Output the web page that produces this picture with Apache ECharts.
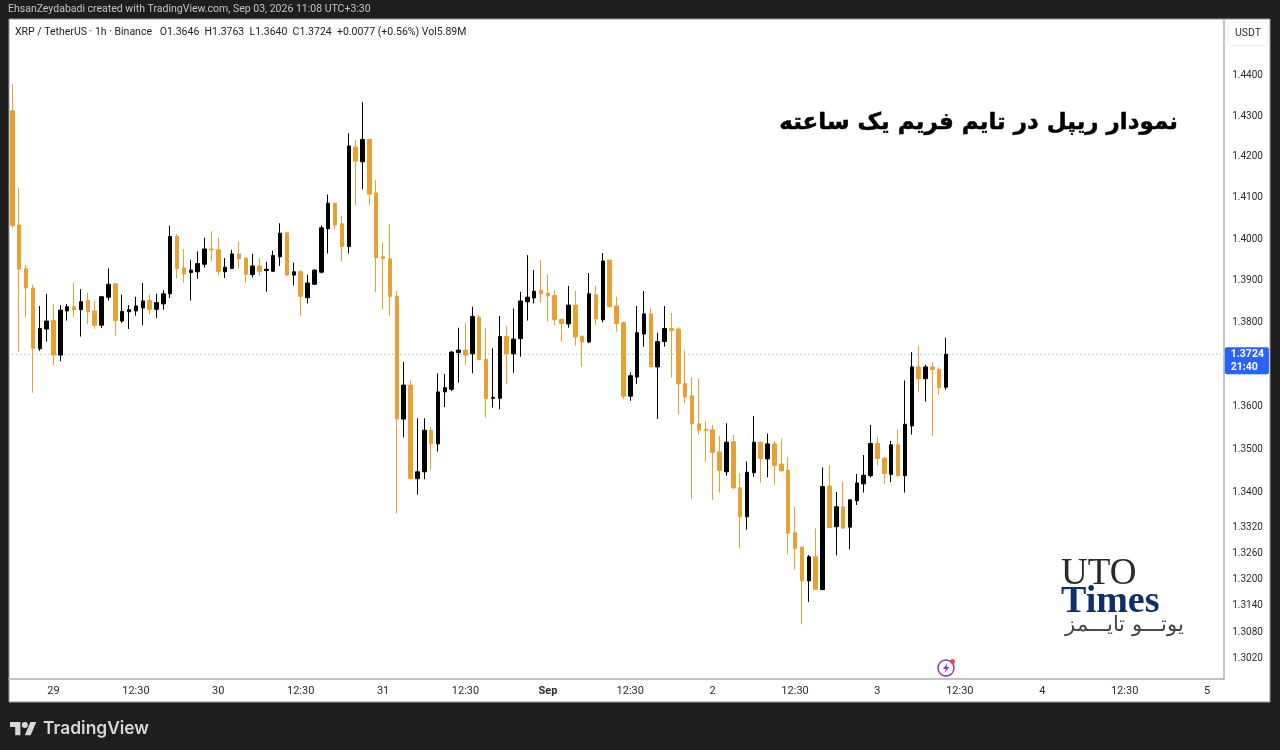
<!DOCTYPE html>
<html>
<head>
<meta charset="utf-8">
<title>XRP 1h</title>
<style>html,body{margin:0;padding:0;background:#1e1e1e}#main{width:1280px;height:750px}</style>
<script src="https://cdn.jsdelivr.net/npm/echarts@6/dist/echarts.min.js"></script>
</head>
<body>
<div id="main"></div>
<script>
var opens = [1.4314,1.4034,1.3928,1.3882,1.3737,1.3784,1.3804,1.3722,1.3827,1.3837,1.3830,1.3852,1.3827,1.3793,1.3860,1.3892,1.3803,1.3825,1.3827,1.3834,
  1.3852,1.3831,1.3844,1.3868,1.4006,1.3930,1.3919,1.3921,1.3939,1.3976,1.3974,1.3921,1.3929,1.3964,1.3954,1.3914,1.3935,1.3924,1.3922,1.3957,
  1.4015,1.3913,1.3921,1.3859,1.3891,1.3920,1.4025,1.4087,1.4037,1.3982,1.4224,1.4188,1.4243,1.4112,1.3957,1.3952,1.3862,1.3571,1.3651,1.3432,
  1.3448,1.3545,1.3513,1.3635,1.3641,1.3728,1.3734,1.3725,1.3812,1.3712,1.3620,1.3620,1.3766,1.3725,1.3761,1.3849,1.3858,1.3876,1.3870,1.3864,
  1.3807,1.3796,1.3841,1.3767,1.3753,1.3866,1.3806,1.3949,1.3839,1.3799,1.3625,1.3670,1.3772,1.3820,1.3694,1.3754,1.3785,1.3784,1.3655,1.3626,
  1.3560,1.3547,1.3546,1.3494,1.3448,1.3518,1.3411,1.3344,1.3446,1.3517,1.3478,1.3513,1.3466,1.3452,1.3307,1.3274,1.3197,1.3252,1.3177,1.3415,
  1.3321,1.3367,1.3320,1.3381,1.3420,1.3439,1.3514,1.3480,1.3442,1.3511,1.3439,1.3555,1.3694,1.3666,1.3694,1.3688,1.3646];
var closes = [1.4032,1.3927,1.3882,1.3738,1.3785,1.3803,1.3722,1.3829,1.3837,1.3830,1.3849,1.3825,1.3793,1.3861,1.3891,1.3804,1.3826,1.3830,1.3839,1.3851,
  1.3831,1.3847,1.3868,1.4006,1.3929,1.3916,1.3925,1.3941,1.3976,1.3974,1.3921,1.3932,1.3964,1.3952,1.3915,1.3935,1.3922,1.3927,1.3960,1.4014,
  1.3913,1.3921,1.3862,1.3894,1.3925,1.4027,1.4087,1.4034,1.3982,1.4227,1.4190,1.4243,1.4109,1.3955,1.3953,1.3861,1.3571,1.3651,1.3432,1.3448,
  1.3545,1.3513,1.3635,1.3645,1.3729,1.3734,1.3722,1.3814,1.3711,1.3619,1.3622,1.3766,1.3725,1.3760,1.3851,1.3860,1.3874,1.3868,1.3863,1.3806,
  1.3797,1.3841,1.3765,1.3753,1.3868,1.3808,1.3947,1.3837,1.3797,1.3625,1.3673,1.3775,1.3820,1.3694,1.3754,1.3785,1.3780,1.3654,1.3623,1.3560,
  1.3545,1.3544,1.3493,1.3451,1.3517,1.3411,1.3344,1.3447,1.3517,1.3479,1.3513,1.3462,1.3450,1.3306,1.3271,1.3197,1.3252,1.3178,1.3414,1.3319,
  1.3367,1.3318,1.3383,1.3422,1.3440,1.3514,1.3479,1.3444,1.3511,1.3439,1.3559,1.3694,1.3666,1.3694,1.3688,1.3645,1.3724];
var lows = [1.4027,1.3730,1.3812,1.3633,1.3732,1.3754,1.3697,1.3707,1.3804,1.3813,1.3766,1.3796,1.3784,1.3786,1.3852,1.3768,1.3799,1.3784,1.3816,1.3793,
  1.3819,1.3810,1.3830,1.3858,1.3904,1.3895,1.3852,1.3904,1.3931,1.3946,1.3912,1.3906,1.3928,1.3928,1.3894,1.3907,1.3911,1.3873,1.3921,1.3935,
  1.3912,1.3888,1.3816,1.3845,1.3890,1.3917,1.3965,1.4024,1.3945,1.3965,1.4081,1.4121,1.4082,1.3872,1.3831,1.3816,1.3352,1.3528,1.3431,1.3395,
  1.3431,1.3452,1.3495,1.3599,1.3637,1.3657,1.3699,1.3679,1.3710,1.3574,1.3598,1.3594,1.3653,1.3680,1.3718,1.3804,1.3845,1.3847,1.3802,1.3793,
  1.3754,1.3787,1.3744,1.3694,1.3750,1.3792,1.3800,1.3837,1.3778,1.3618,1.3614,1.3654,1.3742,1.3693,1.3571,1.3742,1.3669,1.3582,1.3608,1.3386,
  1.3535,1.3471,1.3383,1.3400,1.3439,1.3408,1.3271,1.3314,1.3436,1.3423,1.3435,1.3418,1.3450,1.3258,1.3223,1.3098,1.3149,1.3176,1.3176,1.3318,
  1.3255,1.3316,1.3269,1.3371,1.3400,1.3435,1.3462,1.3420,1.3424,1.3437,1.3400,1.3535,1.3635,1.3612,1.3531,1.3628,1.3640];
var highs = [1.4380,1.4123,1.3937,1.3890,1.3839,1.3868,1.3843,1.3841,1.3844,1.3894,1.3879,1.3871,1.3851,1.3862,1.3929,1.3894,1.3866,1.3841,1.3861,1.3894,
  1.3867,1.3868,1.3877,1.4032,1.4012,1.3976,1.3950,1.3970,1.4003,1.4019,1.4003,1.3954,1.3974,1.3994,1.3954,1.3964,1.3954,1.3945,1.3972,1.4038,
  1.4016,1.3943,1.3925,1.3914,1.3927,1.4033,1.4108,1.4087,1.4056,1.4258,1.4242,1.4335,1.4243,1.4143,1.3992,1.4036,1.3875,1.3706,1.3662,1.3573,
  1.3573,1.3552,1.3679,1.3677,1.3732,1.3787,1.3798,1.3837,1.3818,1.3787,1.3738,1.3815,1.3791,1.3833,1.3873,1.3961,1.3925,1.3950,1.3915,1.3878,
  1.3808,1.3887,1.3875,1.3767,1.3918,1.3887,1.3966,1.3950,1.3861,1.3802,1.3681,1.3839,1.3875,1.3835,1.3775,1.3839,1.3822,1.3788,1.3733,1.3669,
  1.3667,1.3567,1.3557,1.3532,1.3561,1.3534,1.3445,1.3472,1.3578,1.3518,1.3537,1.3520,1.3525,1.3483,1.3367,1.3275,1.3256,1.3317,1.3458,1.3464,
  1.3401,1.3425,1.3383,1.3443,1.3487,1.3557,1.3530,1.3483,1.3520,1.3547,1.3662,1.3729,1.3744,1.3699,1.3705,1.3693,1.3763];

var priceTicks = [1.44,1.43,1.42,1.41,1.40,1.39,1.38,1.36,1.35,1.34,1.332,1.326,1.32,1.314,1.308,1.302];
var timeTickSlots = [6,18,30,42,54,66,78,90,102,114,126,138,150,162,174];
var timeTickLabels = ['29','12:30','30','12:30','31','12:30','Sep','12:30','2','12:30','3','12:30','4','12:30','5'];
var lastPrice = 1.3724;
var countdown = '21:40';
var slotCount = 177;

var up = '#000000';
var down = '#e8a033';
var axisFont = 'Roboto, sans-serif';

var categories = [];
var lastPriceLine = [];
for (var i = 0; i < slotCount; i++) {
  var at = timeTickSlots.indexOf(i);
  categories.push(at >= 0 ? timeTickLabels[at] : '');
  lastPriceLine.push(lastPrice);
}
var candles = opens.map(function (o, i) {
  return [o, closes[i], lows[i], highs[i]];
});

var chart = echarts.init(document.getElementById('main'), null, {renderer: 'canvas'});

chart.setOption({
  animation: false,
  backgroundColor: '#1e1e1e',
  grid: {left: 8.87, right: 55.8, top: 20, bottom: 71},
  xAxis: {
    type: 'category',
    data: categories,
    axisLine: {show: true, lineStyle: {color: '#b0b0b0', width: 1.5}},
    axisTick: {show: false},
    splitLine: {show: false},
    axisLabel: {
      interval: function (i, v) { return v !== ''; },
      hideOverlap: false,
      color: '#2a2a2a',
      fontFamily: axisFont,
      fontSize: 11,
      margin: 7,
      formatter: function (v) { return v === 'Sep' ? '{b|Sep}' : v; },
      rich: {b: {fontWeight: 'bold', fontFamily: axisFont, fontSize: 11, color: '#2a2a2a'}}
    }
  },
  yAxis: {
    type: 'log',
    logBase: 10,
    position: 'right',
    min: 1.2975,
    max: 1.454,
    axisLine: {show: true, lineStyle: {color: '#b0b0b0', width: 1.5}},
    axisTick: {show: false},
    splitLine: {show: false},
    minorTick: {show: false},
    axisLabel: {
      customValues: priceTicks,
      color: '#2a2a2a',
      fontFamily: axisFont,
      fontSize: 10,
      margin: 8,
      padding: [5, 0, 0, 0],
      formatter: function (v) { return Number(v).toFixed(4); }
    }
  },
  series: [{
    type: 'line',
    z: 1,
    data: lastPriceLine,
    showSymbol: false,
    silent: true,
    lineStyle: {color: '#6fae9f', type: [1, 3], width: 1},
    endLabel: {
      show: true,
      distance: 4,
      formatter: lastPrice.toFixed(4) + '\n' + countdown,
      backgroundColor: '#2962ff',
      color: '#fff',
      fontFamily: axisFont,
      fontSize: 10.5,
      fontWeight: 'bold',
      lineHeight: 13,
      padding: [1, 5, 0, 6],
      borderRadius: 2,
      align: 'left',
      verticalAlign: 'top',
      offset: [0, -7]
    }
  }, {
    type: 'candlestick',
    data: candles,
    barWidth: 4,
    itemStyle: {color: up, color0: down, borderColor: up, borderColor0: down, borderWidth: 1}
  }],
  graphic: [
    {type: 'rect', z: -1, shape: {x: 9, y: 19, width: 1261, height: 683}, style: {fill: '#fff', stroke: '#9a9a9a', lineWidth: 1}},
    {type: 'text', x: 8, y: 4, style: {text: 'EhsanZeydabadi created with TradingView.com, Sep 03, 2026 11:08 UTC+3:30', fill: '#c4c4c4', font: '10.5px Roboto, sans-serif'}},
    {type: 'text', x: 15, y: 27, style: {text: 'XRP / TetherUS \u00b7 1h \u00b7 Binance   O1.3646  H1.3763  L1.3640  C1.3724  +0.0077 (+0.56%) Vol5.89M', fill: '#222', font: '10.5px Roboto, sans-serif'}},
    {type: 'rect', shape: {x: 1228.5, y: 22.5, width: 39, height: 23, r: 3}, style: {fill: '#fff', stroke: '#efefef', lineWidth: 1}},
    {type: 'text', x: 1248, y: 28, style: {text: 'USDT', fill: '#333', align: 'center', font: '10.5px Roboto, sans-serif'}},
    {type: 'text', x: 1178, y: 112, style: {text: 'نمودار ریپل در تایم فریم یک ساعته', fill: '#000', stroke: '#000', lineWidth: 0.5, align: 'right', font: 'bold 23px "DejaVu Sans", sans-serif'}},
    {type: 'text', x: 1061, y: 556, style: {text: 'UTO', fill: '#2b2b2b', font: '37px "Liberation Serif", serif'}},
    {type: 'text', x: 1061, y: 583, style: {text: 'Times', fill: '#0f2f6b', font: 'bold 38px "Liberation Serif", serif'}},
    {type: 'text', x: 1184, y: 615, style: {text: 'یوتـــو تایـــمز', fill: '#444', align: 'right', font: '200 21px "DejaVu Sans", sans-serif'}},
    {type: 'circle', shape: {cx: 946, cy: 668, r: 8}, style: {fill: '#fff', stroke: '#8e3aa8', lineWidth: 1.5}},
    {type: 'polygon', shape: {points: [[947.5, 663], [943, 669], [946, 669], [944.5, 673], [949.5, 667], [946.5, 667]]}, style: {fill: '#8e3aa8'}},
    {type: 'circle', shape: {cx: 952.5, cy: 661.5, r: 2.5}, style: {fill: '#e0534a'}},
    {type: 'polygon', shape: {points: [[10, 722], [20.4, 722], [20.4, 735.3], [15.2, 735.3], [15.2, 727.1], [10, 727.1]]}, style: {fill: '#d8d8d8'}},
    {type: 'polygon', shape: {points: [[30.4, 722], [36.3, 722], [30.7, 735.3], [24.8, 735.3]]}, style: {fill: '#d8d8d8'}},
    {type: 'circle', shape: {cx: 24.8, cy: 725, r: 3}, style: {fill: '#d8d8d8'}},
    {type: 'text', x: 43, y: 720, style: {text: 'TradingView', fill: '#d8d8d8', font: '600 17.4px Inter, sans-serif'}}
  ]
});
</script>
</body>
</html>
